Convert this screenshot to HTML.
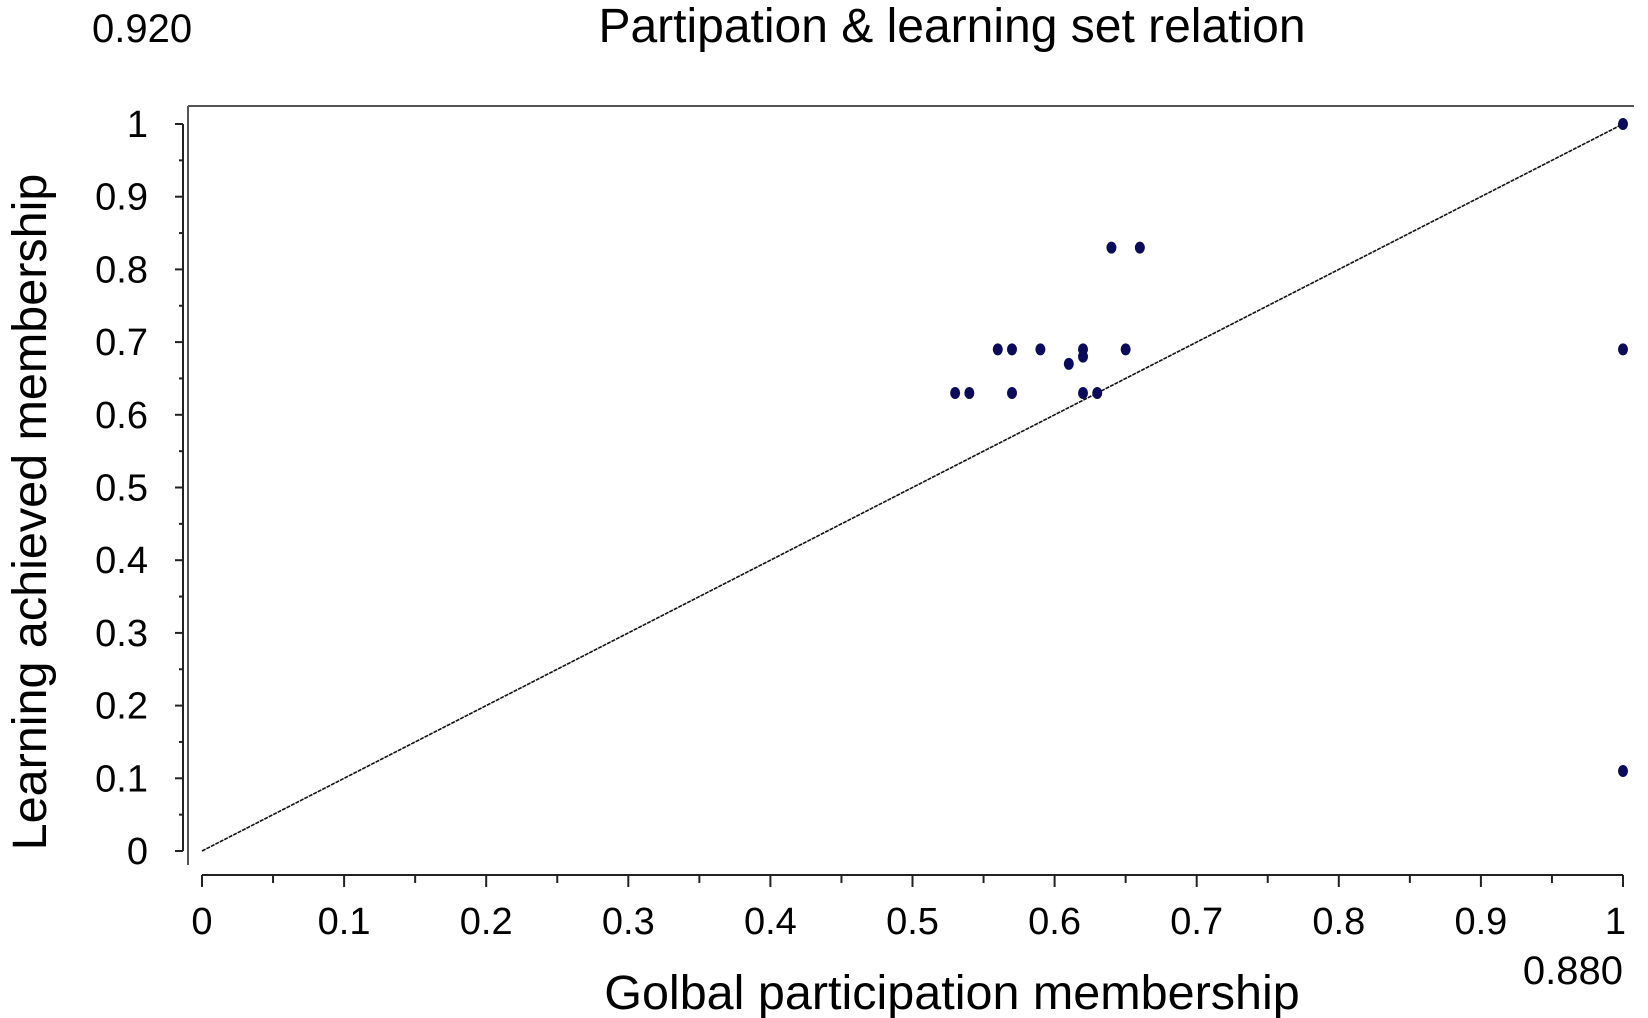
<!DOCTYPE html>
<html><head><meta charset="utf-8"><style>
html,body{margin:0;padding:0;background:#fff;}
svg{display:block;font-family:"Liberation Sans",Arial,sans-serif;}
</style></head><body>
<svg id="chart" width="1648" height="1018" viewBox="0 0 1648 1018">
<text x="952" y="42" font-size="48" text-anchor="middle">Partipation &amp; learning set relation</text>
<text x="92" y="42" font-size="40">0.920</text>
<text x="1623" y="984" font-size="40" text-anchor="end">0.880</text>
<text x="952" y="1009" font-size="48.5" text-anchor="middle">Golbal participation membership</text>
<text transform="translate(46,512) rotate(-90)" font-size="48.5" text-anchor="middle">Learning achieved membership</text>
<line x1="188" y1="106" x2="1634" y2="106" stroke="#555" stroke-width="2"/>
<line x1="188" y1="106" x2="188" y2="865" stroke="#555" stroke-width="2"/>
<g id="axes"></g>
<g id="marks"></g>
</svg>
<script>
const xTicks=[0,0.1,0.2,0.3,0.4,0.5,0.6,0.7,0.8,0.9,1];
const xTickLabels=["0","0.1","0.2","0.3","0.4","0.5","0.6","0.7","0.8","0.9","1"];
const yTicks=[0,0.1,0.2,0.3,0.4,0.5,0.6,0.7,0.8,0.9,1];
const yTickLabels=["0","0.1","0.2","0.3","0.4","0.5","0.6","0.7","0.8","0.9","1"];
const xValues=[0.64,0.66,0.56,0.57,0.59,0.62,0.65,0.62,0.61,0.53,0.54,0.57,0.62,0.63,1,1,1];
const yValues=[0.83,0.83,0.69,0.69,0.69,0.69,0.69,0.68,0.67,0.63,0.63,0.63,0.63,0.63,1,0.69,0.11];
const refLine=[[0,0],[1,1]];
const NS="http://www.w3.org/2000/svg";
const X0=202,X1=1623,Y0=851,Y1=124;
function sx(v){return X0+(X1-X0)*v;}
function sy(v){return Y0-(Y0-Y1)*v;}
const axes=document.getElementById('axes'),marks=document.getElementById('marks');
function mk(tag,attrs,parent,txt){const e=document.createElementNS(NS,tag);for(const k in attrs)e.setAttribute(k,attrs[k]);if(txt!==undefined)e.textContent=txt;parent.appendChild(e);return e;}
let xl=mk('line',{x1:sx(0),y1:875,x2:sx(1),y2:875,stroke:'#222','stroke-width':2},axes);


xTicks.forEach((v,i)=>{
  let t=mk('line',{x1:sx(v),y1:875,x2:sx(v),y2:887,stroke:'#222','stroke-width':2},axes);
  
  
  let lb=mk('text',{x:sx(v),y:934,'font-size':38,'text-anchor':i===xTicks.length-1?'end':'middle'},axes,xTickLabels[i]);
  if(i===xTicks.length-1)lb.setAttribute('x',sx(v)+3);
  
  
  if(i<xTicks.length-1){
    let m=mk('line',{x1:sx(v+0.05),y1:875,x2:sx(v+0.05),y2:883,stroke:'#222','stroke-width':2},axes);
    
    
  }
});
let yl=mk('line',{x1:183,y1:sy(0),x2:183,y2:sy(1),stroke:'#222','stroke-width':2},axes);


yTicks.forEach((v,i)=>{
  let t=mk('line',{x1:175,y1:sy(v),x2:183,y2:sy(v),stroke:'#222','stroke-width':2},axes);
  
  
  let lb=mk('text',{x:148,y:sy(v)+13,'font-size':38,'text-anchor':'end'},axes,yTickLabels[i]);
  
  
  if(i<yTicks.length-1){
    let m=mk('line',{x1:179,y1:sy(v+0.05),x2:183,y2:sy(v+0.05),stroke:'#222','stroke-width':2},axes);
    
    
  }
});
let rl=mk('line',{x1:sx(refLine[0][0]),y1:sy(refLine[0][1]),x2:sx(refLine[1][0]),y2:sy(refLine[1][1]),stroke:'#111','stroke-width':1.6,'stroke-dasharray':'4 1'},marks);


xValues.forEach((v,i)=>{
  let p=mk('ellipse',{cx:sx(v),cy:sy(yValues[i]),rx:5,ry:6,fill:'#0b0b5c'},marks);
  
  
});
</script>
</body></html>
